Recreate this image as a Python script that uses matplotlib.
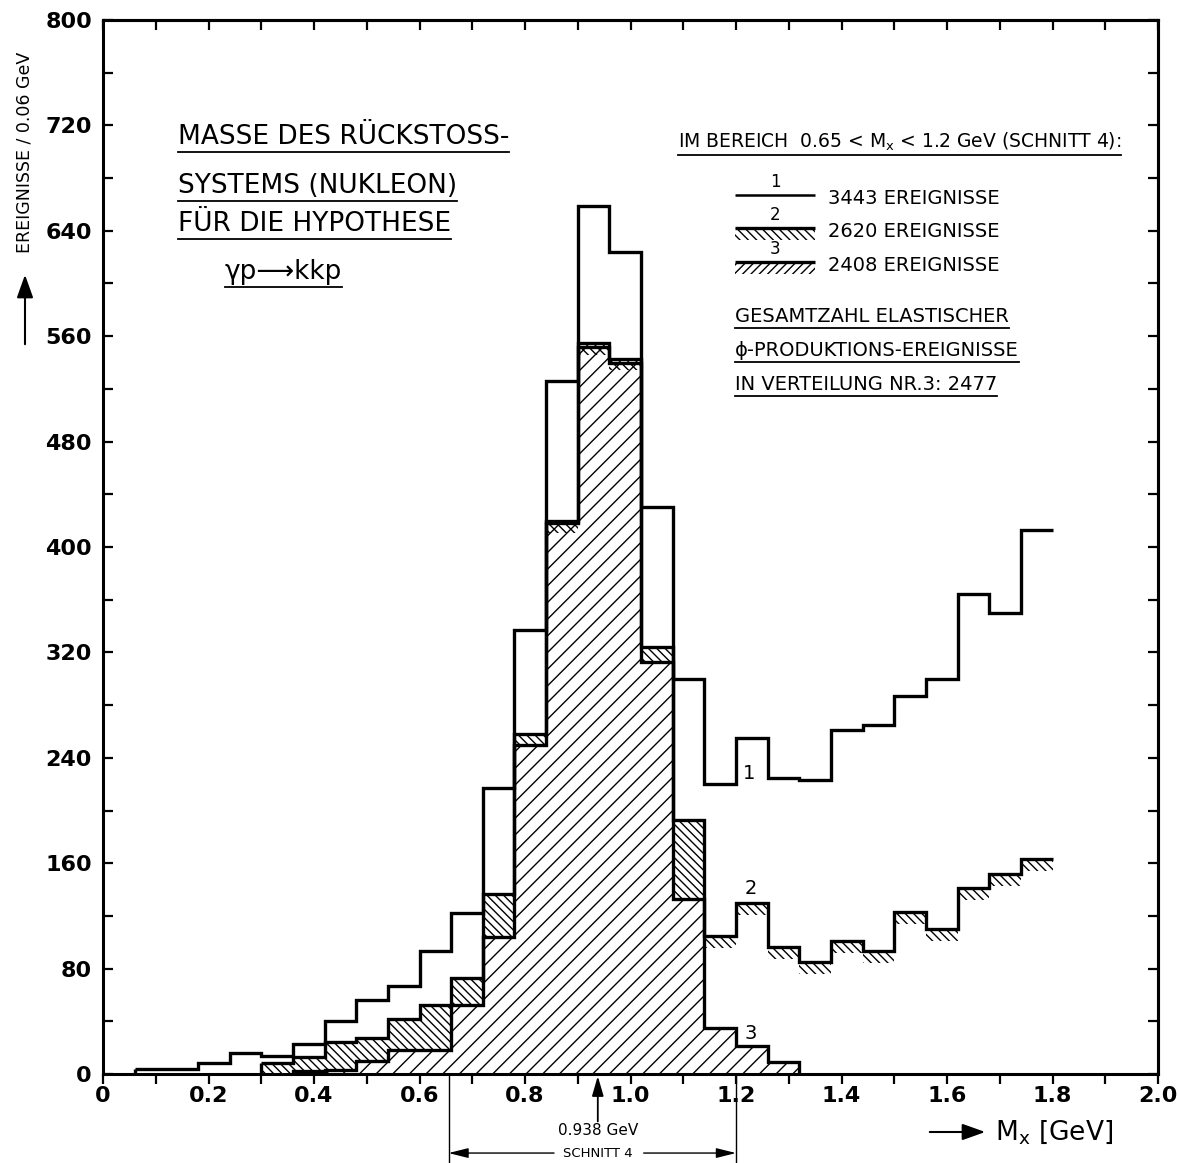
import numpy as np
import matplotlib
matplotlib.use("Agg")
import matplotlib.pyplot as plt
from matplotlib.patches import Rectangle, FancyArrowPatch
from matplotlib.lines import Line2D
from matplotlib.transforms import IdentityTransform
from matplotlib.ticker import MultipleLocator, FuncFormatter

# ---------------- data ----------------
bin_width = 0.06

# histogram 1 (all events), bins start at 0.06 GeV
start_1 = 0.06
counts_1 = [4, 4, 8, 16, 14, 23, 40, 56, 67, 93, 122, 217, 337, 526, 659, 624,
            430, 300, 220, 255, 225, 223, 261, 265, 287, 300, 364, 350, 413]

# histogram 2, bins start at 0.30 GeV
start_2 = 0.30
counts_2 = [8.5, 13, 24, 27, 42, 52, 72.5, 137, 258, 420, 555, 543, 324, 193,
            105, 130, 96.5, 85, 101, 93, 123, 110, 141, 152, 163]

# histogram 3, bins start at 0.36 GeV
start_3 = 0.36
counts_3 = [2, 3, 9.5, 18, 18, 52, 104, 250, 418, 552, 540, 313, 133, 35, 21, 9]

legend_numbers = ["1", "2", "3"]
legend_texts = ["3443 EREIGNISSE", "2620 EREIGNISSE", "2408 EREIGNISSE"]

cut_low, cut_high = 0.655, 1.2
nucleon_mass = 0.938

title_lines = ["MASSE DES RÜCKSTOSS-", "SYSTEMS (NUKLEON)", "FÜR DIE HYPOTHESE"]
reaction = "γp⟶kkp"
header = r"IM BEREICH  0.65 < M$_\mathregular{x}$ < 1.2 GeV (SCHNITT 4):"
total_lines = ["GESAMTZAHL ELASTISCHER", "ϕ-PRODUKTIONS-EREIGNISSE",
               "IN VERTEILUNG NR.3: 2477"]

# ---------------- figure ----------------
plt.rcParams["font.family"] = ["DejaVu Sans"]
plt.rcParams["hatch.linewidth"] = 1.0
plt.rcParams["hatch.color"] = "black"

W, H = 1180, 1163
fig = plt.figure(figsize=(W / 100, H / 100), dpi=100)
ax = fig.add_axes([103 / W, 89 / H, 1055 / W, 1054 / H])


def make_edges(start, n):
    return start + bin_width * np.arange(n + 1)


c1 = np.array(counts_1, float)
c2 = np.array(counts_2, float)
c3 = np.array(counts_3, float)
e1 = make_edges(start_1, len(c1))
e2 = make_edges(start_2, len(c2))
e3 = make_edges(start_3, len(c3))

LW = 2.4

# histogram 3: fully hatched
ax.stairs(c3, e3, baseline=0, fill=True, facecolor="none", edgecolor="black",
          hatch="//", linewidth=0)

# histogram 2: hatch band below its outline (full between 2 and 3 in the peak)
off = int(round((start_3 - start_2) / bin_width))
c3_on_2 = np.zeros_like(c2)
c3_on_2[off:off + len(c3)] = c3
band = 9
left2 = e2[:-1]
lower2 = np.where(left2 < 1.13, np.minimum(c3_on_2, c2 - band), c2 - band)
lower2 = np.maximum(lower2, 0)
ax.stairs(c2, e2, baseline=lower2, fill=True, facecolor="none",
          edgecolor="black", hatch="\\\\\\\\", linewidth=0)

# outlines
ax.stairs(c1, e1, baseline=None, color="black", linewidth=LW)
ax.vlines(e1[0], 0, c1[0], color="black", linewidth=LW)
ax.stairs(c2, e2, baseline=None, color="black", linewidth=LW)
ax.vlines(e2[0], 0, c2[0], color="black", linewidth=LW)
ax.stairs(c3, e3, baseline=0, color="black", linewidth=LW)

# curve numbers
ax.text(1.224, 228, "1", fontsize=14, ha="center", va="center")
ax.text(1.228, 141, "2", fontsize=14, ha="center", va="center")
ax.text(1.228, 31, "3", fontsize=14, ha="center", va="center")

# ---------------- axes ----------------
ax.set_xlim(0, 2.0)
ax.set_ylim(0, 800)
ax.xaxis.set_major_locator(MultipleLocator(0.2))
ax.xaxis.set_minor_locator(MultipleLocator(0.1))
ax.yaxis.set_major_locator(MultipleLocator(80))
ax.yaxis.set_minor_locator(MultipleLocator(40))
ax.xaxis.set_major_formatter(FuncFormatter(lambda v, p: "0" if abs(v) < 1e-9 else f"{v:.1f}"))
ax.yaxis.set_major_formatter(FuncFormatter(lambda v, p: f"{v:.0f}"))
for s in ax.spines.values():
    s.set_linewidth(2.2)
ax.tick_params(axis="x", which="both", direction="out", length=7, width=1.6,
               labelsize=16, pad=2, top=False)
ax.tick_params(axis="y", which="both", direction="in", length=7, width=1.6,
               labelsize=16, pad=8, right=False)
for lab in ax.get_xticklabels() + ax.get_yticklabels():
    lab.set_fontweight("bold")

secx = ax.secondary_xaxis("top")
secx.xaxis.set_major_locator(MultipleLocator(0.1))
secx.tick_params(direction="in", length=7, width=1.6, labeltop=False)
secx.spines["top"].set_linewidth(2.2)
secy = ax.secondary_yaxis("right")
secy.yaxis.set_major_locator(MultipleLocator(40))
secy.tick_params(direction="in", length=7, width=1.6, labelright=False)
secy.spines["right"].set_linewidth(2.2)

# ---------------- axis labels ----------------
fig.text(25 / W, 1 - 152 / H, "EREIGNISSE / 0.06 GeV", rotation=90,
         ha="center", va="center", fontsize=12.5)
fig.add_artist(FancyArrowPatch(
    (25 / W, 1 - 347 / H), (25 / W, 1 - 272 / H), transform=fig.transFigure,
    arrowstyle="-|>,head_length=14,head_width=5", color="black",
    linewidth=1.5, mutation_scale=1))
fig.add_artist(FancyArrowPatch(
    (927 / W, 1 - 1132 / H), (988 / W, 1 - 1132 / H), transform=fig.transFigure,
    arrowstyle="-|>,head_length=14,head_width=5", color="black",
    linewidth=1.5, mutation_scale=1))
fig.text(995 / W, 1 - 1132 / H, r"M$_\mathregular{x}$ [GeV]", ha="left",
         va="center", fontsize=19)

# ---------------- nucleon mass and cut annotation ----------------
ax.annotate("", xy=(nucleon_mass, -0.002), xycoords=("data", "axes fraction"),
            xytext=(nucleon_mass, -0.045), textcoords=("data", "axes fraction"),
            arrowprops=dict(arrowstyle="-|>,head_length=1.2,head_width=0.35",
                            color="black", lw=1.3, shrinkA=0, shrinkB=0),
            annotation_clip=False)
ax.text(nucleon_mass, -0.054, "0.938 GeV", transform=ax.get_xaxis_transform(),
        ha="center", va="center", fontsize=11)
for xc in (cut_low, cut_high):
    ax.plot([xc, xc], [0, -0.085], transform=ax.get_xaxis_transform(),
            color="black", lw=1.0, clip_on=False)
ycut = -0.075
ax.annotate("", xy=(cut_low, ycut), xycoords=("data", "axes fraction"),
            xytext=(0.855, ycut), textcoords=("data", "axes fraction"),
            arrowprops=dict(arrowstyle="-|>,head_length=1.2,head_width=0.3",
                            color="black", lw=1.0, shrinkA=0, shrinkB=0),
            annotation_clip=False)
ax.annotate("", xy=(cut_high, ycut), xycoords=("data", "axes fraction"),
            xytext=(1.025, ycut), textcoords=("data", "axes fraction"),
            arrowprops=dict(arrowstyle="-|>,head_length=1.2,head_width=0.3",
                            color="black", lw=1.0, shrinkA=0, shrinkB=0),
            annotation_clip=False)
ax.text(nucleon_mass, ycut, "SCHNITT 4", transform=ax.get_xaxis_transform(),
        ha="center", va="center", fontsize=9.5)

# ---------------- text blocks ----------------
underlined = []


def axfrac(px, py):
    return (px - 103) / 1055, (1074 - py) / 1054


title_y = [137, 186, 224]
for line, py in zip(title_lines, title_y):
    xf, yf = axfrac(178, py)
    underlined.append(ax.text(xf, yf, line, transform=ax.transAxes, fontsize=19,
                              ha="left", va="center"))
xf, yf = axfrac(225, 272)
underlined.append(ax.text(xf, yf, reaction, transform=ax.transAxes, fontsize=19,
                          ha="left", va="center"))

xf, yf = axfrac(678, 142)
underlined.append(ax.text(xf, yf, header, transform=ax.transAxes, fontsize=13.5,
                          ha="left", va="center"))

row_y = [195, 228, 262]
hatches = [None, "\\\\\\\\", "////"]
lx0, lx1 = axfrac(735, 0)[0], axfrac(815, 0)[0]
for num, txt, py, hat in zip(legend_numbers, legend_texts, row_y, hatches):
    _, yf = axfrac(0, py)
    if hat is not None:
        ax.add_patch(Rectangle((lx0, yf - 0.011), lx1 - lx0, 0.011,
                               transform=ax.transAxes, fill=False, lw=0,
                               hatch=hat, edgecolor="black"))
    ax.plot([lx0, lx1], [yf, yf], transform=ax.transAxes, color="black",
            lw=2.4 if hat else 1.8, solid_capstyle="butt")
    ax.text((lx0 + lx1) / 2, yf + 0.004, num, transform=ax.transAxes,
            fontsize=12, ha="center", va="bottom")
    tx, _ = axfrac(828, 0)
    ax.text(tx, yf - 0.003, txt, transform=ax.transAxes, fontsize=14,
            ha="left", va="center")

total_y = [316, 350, 384]
for line, py in zip(total_lines, total_y):
    xf, yf = axfrac(735, py)
    underlined.append(ax.text(xf, yf, line, transform=ax.transAxes, fontsize=14,
                              ha="left", va="center"))

fig.canvas.draw()
renderer = fig.canvas.get_renderer()
for t in underlined:
    bb = t.get_window_extent(renderer)
    yline = bb.y0 - 2
    fig.add_artist(Line2D([bb.x0, bb.x1], [yline, yline],
                          transform=IdentityTransform(), color="black", lw=1.3))

fig.savefig("out.png", dpi=100)
